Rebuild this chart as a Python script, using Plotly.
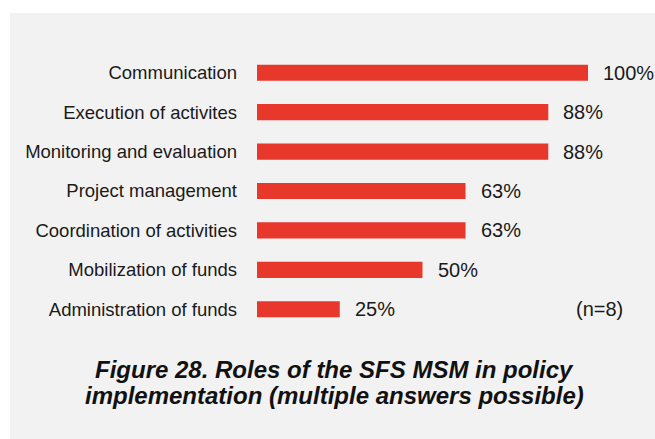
import plotly.graph_objects as go

# data
roles = ["Communication", "Execution of activites", "Monitoring and evaluation",
         "Project management", "Coordination of activities",
         "Mobilization of funds", "Administration of funds"]
shares = [100, 88, 88, 63, 63, 50, 25]
labels = ["100%", "88%", "88%", "63%", "63%", "50%", "25%"]
sample_note = "(n=8)"
caption = ["Figure 28. Roles of the SFS MSM in policy",
           "implementation (multiple answers possible)"]

RED = "#E8372B"
GRAY = "#F2F2F2"
FONT = "Liberation Sans, Arial, sans-serif"

W, H = 655, 439
L, R, T, B = 257, 67, 53, 110
pw, ph = W - L - R, H - T - B


def px_x(x):
    # pixel -> paper coords
    return (x - L) / pw


def px_y(y):
    return (H - B - y) / ph


fig = go.Figure()
fig.add_trace(go.Bar(
    x=shares, y=roles, orientation="h",
    marker=dict(color=RED, line=dict(width=0)),
    width=0.41, hoverinfo="skip",
))

# value labels to the right of each bar
for r, v, t in zip(roles, shares, labels):
    fig.add_annotation(x=v, y=r, text=t, showarrow=False, xanchor="left",
                       xshift=13, font=dict(size=20, color="#1a1a1a", family=FONT))

fig.add_annotation(x=px_x(625), y=roles[-1], xref="paper", yref="y",
                   text=sample_note, showarrow=False, xanchor="right",
                   font=dict(size=20, color="#1a1a1a", family=FONT))

for i, line in enumerate(caption):
    fig.add_annotation(x=px_x(334), y=px_y(369 + 26 * i), xref="paper", yref="paper",
                       text="<b><i>%s</i></b>" % line, showarrow=False,
                       xanchor="center", yanchor="middle",
                       font=dict(size=24, color="#111111", family=FONT))

# grey panel behind everything
fig.add_shape(type="rect", xref="paper", yref="paper", layer="below",
              x0=px_x(10), x1=px_x(W + 20), y0=px_y(H + 20), y1=px_y(13),
              fillcolor=GRAY, line=dict(width=0))

fig.update_layout(
    width=W, height=H,
    margin=dict(l=L, r=R, t=T, b=B, pad=0),
    paper_bgcolor="white", plot_bgcolor="rgba(0,0,0,0)",
    showlegend=False,
    font=dict(family=FONT, color="#1a1a1a"),
    xaxis=dict(range=[0, 100], visible=False, fixedrange=True),
    yaxis=dict(categoryorder="array", categoryarray=roles[::-1],
               range=[-0.5, 6.5], showgrid=False, showline=False, zeroline=False,
               ticks="", ticklabelstandoff=19,
               tickfont=dict(size=18.5, color="#1a1a1a", family=FONT),
               fixedrange=True),
)

# drop the browser's default body margin so the figure fills the window
fig.write_html("out.html", config={"displayModeBar": False},
               post_script="document.body.style.margin='0';"
                           "document.body.style.overflow='hidden';")
